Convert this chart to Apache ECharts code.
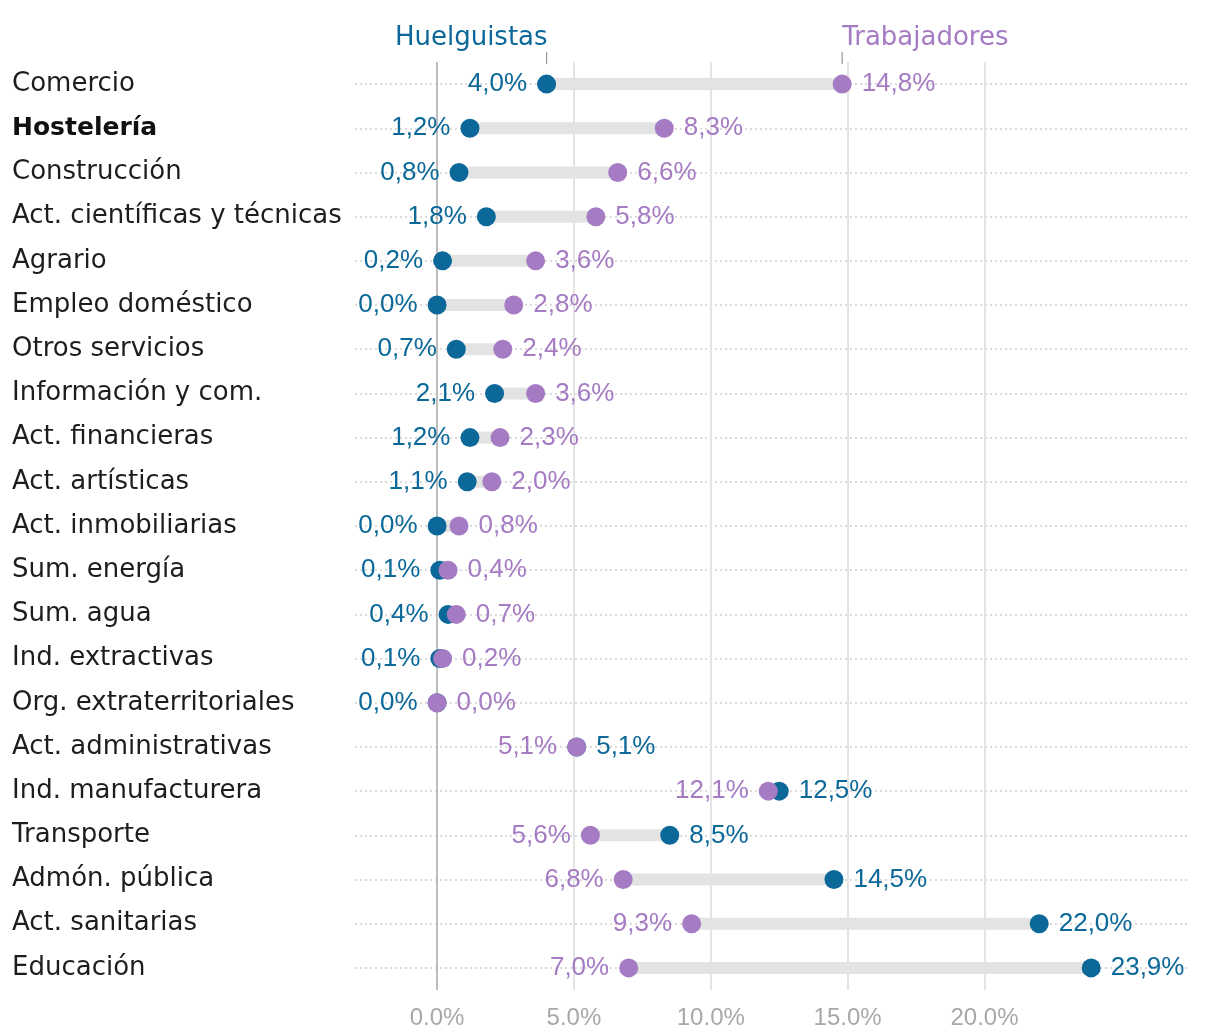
<!DOCTYPE html>
<html><head><meta charset="utf-8">
<script src="https://cdn.jsdelivr.net/npm/echarts@6/dist/echarts.min.js"></script>
<style>html,body{margin:0;padding:0;background:#fff}#c{width:1220px;height:1036px}</style>
</head><body><div id="c"></div>
<script>
const categories = ['Comercio','Hostelería','Construcción','Act. científicas y técnicas','Agrario','Empleo doméstico','Otros servicios','Información y com.','Act. financieras','Act. artísticas','Act. inmobiliarias','Sum. energía','Sum. agua','Ind. extractivas','Org. extraterritoriales','Act. administrativas','Ind. manufacturera','Transporte','Admón. pública','Act. sanitarias','Educación'];
const huelguistas = [4.0,1.2,0.8,1.8,0.2,0.0,0.7,2.1,1.2,1.1,0.0,0.1,0.4,0.1,0.0,5.1,12.5,8.5,14.5,22.0,23.9];
const trabajadores = [14.8,8.3,6.6,5.8,3.6,2.8,2.4,3.6,2.3,2.0,0.8,0.4,0.7,0.2,0.0,5.1,12.1,5.6,6.8,9.3,7.0];
const xTicks = [0,5,10,15,20];
const headerLabels = ['Huelguistas','Trabajadores'];
const boldCategory = 'Hostelería';
const rowsStrikersBelow = 15; // first rows: share of strikers below share of workers

const BLUE = '#0b6899', PURPLE = '#a57bc4';
const NUM_FONT = '"Liberation Sans",sans-serif';
const CAT_FONT = '"DejaVu Sans", sans-serif';
const fmt = v => v.toFixed(1).replace('.', ',') + '%';

const chart = echarts.init(document.getElementById('c'), null, {renderer: 'canvas'});

const hData = huelguistas.map((v, i) => ({
  value: [v, i],
  label: {position: i < rowsStrikersBelow ? 'left' : 'right'}
}));
const tData = trabajadores.map((v, i) => ({
  value: [v, i],
  label: {position: i < rowsStrikersBelow ? 'right' : 'left'}
}));

const labelBase = {show: true, distance: 10, fontSize: 26, fontFamily: NUM_FONT, formatter: p => fmt(p.value[0])};

chart.setOption({
  animation: false,
  grid: {left: 355, right: 33, top: 62, bottom: 46, containLabel: false},
  xAxis: {
    type: 'value', min: -3, max: 27.4,
    splitLine: {show: false}, axisLine: {show: false}, axisTick: {show: false},
    axisLabel: {customValues: xTicks, formatter: v => v.toFixed(1) + '%', color: '#a8a8a8', fontSize: 24, fontFamily: NUM_FONT, margin: 16}
  },
  yAxis: {
    type: 'category', inverse: true, data: categories,
    axisLine: {show: false}, axisTick: {show: false}, splitLine: {show: false},
    axisLabel: {
      align: 'left', margin: 343, fontSize: 26, color: '#1d1d1d', fontFamily: CAT_FONT,
      formatter: v => v === boldCategory ? '{b|' + v + '}' : v,
      rich: {b: {fontWeight: 'bold', fontSize: 25, color: '#111', fontFamily: CAT_FONT}}
    }
  },
  series: [
    {
      type: 'custom', name: 'grid', silent: true, z: 1,
      data: [],
      renderItem: () => null,
      markLine: {
        silent: true, symbol: 'none', label: {show: false}, animation: false, z: 1,
        data: categories.map(c => ({yAxis: c, lineStyle: {color: '#cfcfcf', width: 1.5, type: [2, 3]}}))
          .concat(xTicks.map(v => ({xAxis: v, lineStyle: {color: v === 0 ? '#bdbdbd' : '#e4e4e4', width: 2, type: 'solid'}})))
      }
    },
    {
      type: 'custom', name: 'connector', silent: true, z: 6,
      encode: {x: [0, 1], y: 2},
      data: categories.map((c, i) => [huelguistas[i], trabajadores[i], i]),
      renderItem: (params, api) => {
        const a = api.coord([api.value(0), api.value(2)]);
        const b = api.coord([api.value(1), api.value(2)]);
        return {type: 'line', shape: {x1: a[0], y1: a[1], x2: b[0], y2: b[1]}, style: {stroke: '#e3e3e3', lineWidth: 12}};
      }
    },
    {
      type: 'scatter', name: 'Huelguistas', z: 7, symbolSize: 19,
      itemStyle: {color: BLUE, opacity: 1},
      label: Object.assign({color: BLUE}, labelBase),
      data: hData
    },
    {
      type: 'scatter', name: 'Trabajadores', z: 8, symbolSize: 19,
      itemStyle: {color: PURPLE, opacity: 1},
      label: Object.assign({color: PURPLE}, labelBase),
      data: tData
    },
    {
      type: 'custom', name: 'header', silent: true, z: 9, clip: false,
      encode: {x: 0, y: 1},
      data: [[huelguistas[0], 0, 0], [trabajadores[0], 0, 1]],
      renderItem: (params, api) => {
        const p = api.coord([api.value(0), api.value(1)]);
        const k = api.value(2);
        return {type: 'group', children: [
          {type: 'line', shape: {x1: p[0], y1: p[1] - 32, x2: p[0], y2: p[1] - 20}, style: {stroke: '#999', lineWidth: 1.2}},
          {type: 'text', x: p[0] + (k === 0 ? 1 : 0), y: p[1] - 46, style: {
            text: headerLabels[k], fill: k === 0 ? BLUE : PURPLE, font: '26px ' + CAT_FONT,
            align: k === 0 ? 'right' : 'left', verticalAlign: 'middle'}}
        ]};
      }
    }
  ]
});
</script></body></html>
